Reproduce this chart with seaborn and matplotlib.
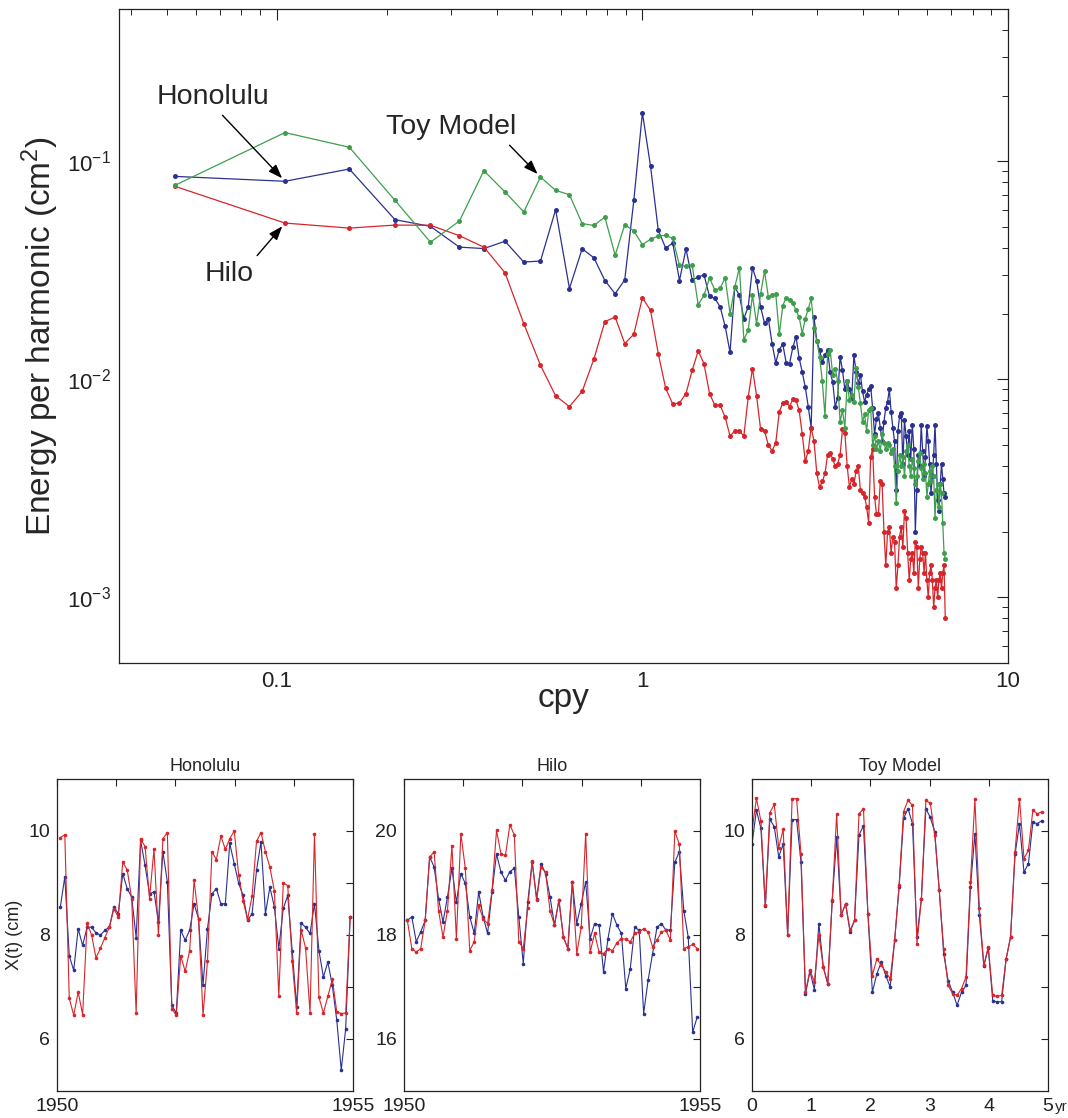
import numpy as np
import pandas as pd
import matplotlib
matplotlib.use("Agg")
import matplotlib.pyplot as plt
from matplotlib.ticker import FixedLocator, FixedFormatter, LogLocator, NullFormatter
import matplotlib.transforms as mtransforms
import seaborn as sns

# ---------------- data: spectra (energy per harmonic, cm^2) ----------------
record_years = 19.0
harmonic = np.arange(1, 129)          # harmonic number k, frequency = k / record length

honolulu_E = [
    0.0853, 0.0810, 0.0922, 0.0540, 0.0503, 0.0404, 0.0398, 0.0430, 0.0345, 0.0349,
    0.0600, 0.0261, 0.0397, 0.0361, 0.0284, 0.0247, 0.0286, 0.0662, 0.1670, 0.0948,
    0.0482, 0.0400, 0.0422, 0.0284, 0.0397, 0.0286, 0.0294, 0.0302, 0.0240, 0.0235,
    0.0215, 0.0175, 0.0133, 0.0265, 0.0243, 0.0190, 0.0215, 0.0325, 0.0284, 0.0215,
    0.0181, 0.0190, 0.0146, 0.0119, 0.0137, 0.0145, 0.0119, 0.0118, 0.0140, 0.0157,
    0.0125, 0.0108, 0.0092, 0.0075, 0.0060, 0.0193, 0.0150, 0.0136, 0.0120, 0.0129,
    0.0136, 0.0108, 0.0097, 0.0075, 0.0082, 0.0127, 0.0110, 0.0090, 0.0098, 0.0090,
    0.0082, 0.0129, 0.0108, 0.0096, 0.0105, 0.0088, 0.0079, 0.0085, 0.0090, 0.0093,
    0.0074, 0.0056, 0.0066, 0.0070, 0.0060, 0.0052, 0.0064, 0.0074, 0.0079, 0.0090,
    0.0071, 0.0060, 0.0052, 0.0031, 0.0058, 0.0068, 0.0070, 0.0041, 0.0065, 0.0055,
    0.0045, 0.0058, 0.0043, 0.0062, 0.0048, 0.0020, 0.0031, 0.0045, 0.0040, 0.0062,
    0.0047, 0.0036, 0.0044, 0.0061, 0.0052, 0.0041, 0.0030, 0.0036, 0.0045, 0.0062,
    0.0041, 0.0028, 0.0025, 0.0033, 0.0041, 0.0035, 0.0030, 0.0029,
]
hilo_E = [
    0.0768, 0.0521, 0.0494, 0.0510, 0.0509, 0.0456, 0.0404, 0.0308, 0.0180, 0.0116,
    0.0084, 0.0075, 0.0088, 0.0124, 0.0184, 0.0193, 0.0146, 0.0161, 0.0237, 0.0207,
    0.0131, 0.0091, 0.0077, 0.0078, 0.0086, 0.0110, 0.0135, 0.0118, 0.0086, 0.0076,
    0.0076, 0.0067, 0.0055, 0.0058, 0.0058, 0.0055, 0.0083, 0.0112, 0.0084, 0.0059,
    0.0058, 0.0050, 0.0047, 0.0051, 0.0071, 0.0078, 0.0079, 0.0075, 0.0081, 0.0080,
    0.0072, 0.0056, 0.0042, 0.0047, 0.0060, 0.0052, 0.0037, 0.0032, 0.0034, 0.0037,
    0.0045, 0.0046, 0.0043, 0.0040, 0.0041, 0.0045, 0.0059, 0.0057, 0.0040, 0.0032,
    0.0035, 0.0033, 0.0038, 0.0040, 0.0031, 0.0030, 0.0029, 0.0026, 0.0022, 0.0044,
    0.0048, 0.0029, 0.0024, 0.0024, 0.0034, 0.0033, 0.0020, 0.0014, 0.0020, 0.0021,
    0.0016, 0.0019, 0.0018, 0.0011, 0.0014, 0.0019, 0.0021, 0.0017, 0.0025, 0.0023,
    0.0016, 0.0012, 0.0015, 0.0016, 0.0013, 0.0018, 0.0017, 0.0011, 0.0015, 0.0017,
    0.0016, 0.0013, 0.0016, 0.0012, 0.0010, 0.0013, 0.0014, 0.0012, 0.0009, 0.0011,
    0.0012, 0.0010, 0.0012, 0.0013, 0.0011, 0.0013, 0.0014, 0.0008,
]
toy_E = [
    0.0776, 0.1355, 0.1160, 0.0662, 0.0426, 0.0532, 0.0906, 0.0723, 0.0586, 0.0847,
    0.0736, 0.0703, 0.0518, 0.0508, 0.0555, 0.0371, 0.0512, 0.0479, 0.0415, 0.0439,
    0.0454, 0.0458, 0.0443, 0.0333, 0.0330, 0.0333, 0.0220, 0.0243, 0.0292, 0.0256,
    0.0262, 0.0292, 0.0200, 0.0265, 0.0325, 0.0152, 0.0168, 0.0243, 0.0180, 0.0247,
    0.0314, 0.0239, 0.0243, 0.0247, 0.0161, 0.0218, 0.0237, 0.0231, 0.0225, 0.0207,
    0.0193, 0.0162, 0.0190, 0.0210, 0.0235, 0.0172, 0.0150, 0.0127, 0.0098, 0.0068,
    0.0130, 0.0136, 0.0105, 0.0112, 0.0098, 0.0064, 0.0072, 0.0060, 0.0098, 0.0080,
    0.0085, 0.0079, 0.0113, 0.0092, 0.0078, 0.0064, 0.0069, 0.0058, 0.0072, 0.0074,
    0.0050, 0.0055, 0.0048, 0.0052, 0.0047, 0.0056, 0.0051, 0.0048, 0.0051, 0.0050,
    0.0046, 0.0048, 0.0040, 0.0027, 0.0038, 0.0045, 0.0040, 0.0044, 0.0036, 0.0047,
    0.0050, 0.0040, 0.0036, 0.0043, 0.0039, 0.0033, 0.0036, 0.0042, 0.0046, 0.0039,
    0.0035, 0.0041, 0.0037, 0.0029, 0.0033, 0.0038, 0.0034, 0.0040, 0.0036, 0.0023,
    0.0031, 0.0033, 0.0026, 0.0033, 0.0030, 0.0022, 0.0016, 0.0015,
]

# ---------------- data: time series X(t) in cm (observed = blue, model = red) -------------
sample_step = 0.0753          # years between samples
hon_start, hilo_start, toy_start = 1950.056, 1950.056, 0.0

hon_obs = [
    8.54, 9.12, 7.60, 7.32, 8.12, 7.80, 8.15, 8.15, 8.04, 8.00,
    8.09, 8.15, 8.54, 8.41, 9.18, 8.89, 8.73, 7.95, 9.82, 9.34,
    8.79, 8.83, 8.25, 9.60, 9.02, 6.65, 6.50, 8.09, 7.90, 8.09,
    8.60, 8.31, 7.03, 8.12, 8.79, 8.89, 8.60, 8.60, 9.76, 9.37,
    8.99, 8.76, 8.28, 8.41, 9.24, 9.79, 8.41, 8.92, 8.54, 7.74,
    8.51, 8.76, 7.70, 6.62, 8.23, 8.15, 8.03, 8.60, 7.70, 7.19,
    7.48, 7.03, 6.36, 5.40, 6.20, 8.35,
]
hon_fit = [
    9.87, 9.93, 6.78, 6.46, 6.90, 6.47, 8.23, 8.00, 7.56, 7.75,
    7.95, 8.15, 8.50, 8.35, 9.40, 9.25, 8.70, 6.50, 9.85, 9.70,
    8.70, 9.65, 8.00, 9.85, 9.97, 6.58, 6.46, 7.60, 7.30, 7.70,
    9.05, 8.30, 6.46, 7.50, 9.60, 9.45, 9.90, 9.65, 9.85, 10.00,
    9.15, 8.65, 8.30, 8.75, 9.80, 9.97, 9.60, 9.30, 8.85, 6.82,
    9.00, 8.95, 7.50, 6.50, 8.10, 7.75, 6.50, 9.95, 6.80, 6.50,
    6.82, 7.15, 6.52, 6.49, 6.50, 8.35,
]
hilo_obs = [
    18.28, 18.35, 17.87, 18.06, 18.28, 19.50, 19.31, 18.70, 18.25, 18.73,
    19.28, 18.63, 19.18, 18.99, 18.35, 18.03, 18.83, 18.35, 18.03, 18.83,
    19.56, 19.21, 19.05, 19.22, 19.28, 18.35, 17.45, 18.63, 19.40, 18.70,
    19.37, 19.18, 18.73, 18.19, 18.67, 17.96, 17.74, 19.02, 18.22, 18.60,
    19.02, 17.93, 18.22, 18.19, 17.29, 17.93, 18.41, 18.19, 18.03, 16.97,
    17.35, 18.15, 18.09, 16.49, 17.13, 17.64, 18.15, 18.22, 18.09, 18.10,
    19.40, 19.60, 18.47, 17.96, 16.13, 16.42,
]
hilo_fit = [
    18.28, 17.74, 17.67, 17.74, 18.28, 19.50, 19.60, 18.47, 17.96, 18.47,
    19.72, 17.93, 19.95, 19.28, 17.70, 17.87, 18.57, 18.31, 18.22, 18.86,
    20.01, 19.56, 19.53, 20.12, 19.92, 17.87, 17.74, 18.51, 19.42, 18.67,
    19.30, 19.21, 18.47, 18.19, 18.67, 17.96, 17.74, 19.02, 17.64, 18.15,
    19.95, 17.67, 18.03, 17.67, 17.64, 17.74, 17.70, 17.85, 17.93, 17.92,
    17.87, 18.03, 18.06, 18.12, 18.06, 17.77, 17.90, 18.06, 18.09, 17.90,
    20.00, 19.74, 17.74, 17.77, 17.82, 17.74,
]
toy_obs = [
    9.75, 10.40, 10.05, 8.55, 10.23, 10.08, 9.50, 9.75, 8.00, 10.22,
    10.22, 9.40, 6.87, 7.30, 6.95, 8.22, 7.38, 7.06, 8.66, 9.88,
    8.38, 8.60, 8.06, 8.28, 9.92, 10.10, 8.41, 6.90, 7.25, 7.48,
    7.22, 7.00, 7.90, 8.92, 10.24, 10.43, 10.14, 7.96, 8.70, 10.43,
    10.26, 9.98, 8.86, 7.64, 7.12, 6.90, 6.65, 6.90, 7.03, 8.92,
    9.95, 8.38, 7.40, 7.75, 6.74, 6.71, 6.72, 7.54, 7.96, 9.55,
    10.14, 9.21, 9.37, 10.17, 10.14, 10.20,
]
toy_fit = [
    10.00, 10.63, 10.19, 8.57, 10.35, 10.51, 9.68, 10.03, 8.00, 10.62,
    10.62, 9.56, 6.90, 7.32, 7.10, 8.00, 7.38, 7.06, 8.68, 10.33,
    8.38, 8.60, 8.09, 8.28, 10.33, 10.43, 8.41, 7.22, 7.54, 7.42,
    7.29, 7.16, 7.90, 8.96, 10.37, 10.59, 10.49, 7.83, 8.70, 10.59,
    10.53, 9.92, 8.86, 7.74, 7.03, 6.87, 6.84, 6.97, 7.19, 9.02,
    10.62, 8.51, 7.42, 7.77, 6.84, 6.82, 6.84, 7.54, 7.96, 9.60,
    10.62, 9.47, 9.63, 10.40, 10.33, 10.37,
]

# ---------------- style ----------------
sns.set_style("white")
plt.rcParams["font.family"] = ["Liberation Sans", "DejaVu Sans"]
plt.rcParams["mathtext.fontset"] = "custom"
plt.rcParams["mathtext.rm"] = "Liberation Sans"
plt.rcParams["mathtext.it"] = "Liberation Sans:italic"
plt.rcParams["mathtext.bf"] = "Liberation Sans:bold"
plt.rcParams["mathtext.default"] = "rm"

BLUE = "#2a3190"
RED = "#d7262b"
GREEN = "#3f9e4d"
AX_COLOR = "#222222"

fig = plt.figure(figsize=(10.68, 11.18), dpi=100)

# ---------------- top: spectra ----------------
ax = fig.add_axes([0.1114, 0.4070, 0.8324, 0.5850])
freq = harmonic / record_years
spec = pd.DataFrame({"cpy": freq, "Honolulu": honolulu_E, "Hilo": hilo_E, "Toy Model": toy_E})

for name, col in [("Honolulu", BLUE), ("Hilo", RED), ("Toy Model", GREEN)]:
    sns.lineplot(data=spec, x="cpy", y=name, ax=ax, color=col, linewidth=0.9,
                 marker="o", markersize=3.6, markeredgewidth=0, markeredgecolor=col,
                 sort=False, estimator=None)

ax.set_xscale("log")
ax.set_yscale("log")
ax.set_xlim(0.037, 10)
ax.set_ylim(5e-4, 0.5)
ax.xaxis.set_major_locator(FixedLocator([0.1, 1, 10]))
ax.xaxis.set_major_formatter(FixedFormatter(["0.1", "1", "10"]))
ax.xaxis.set_minor_locator(LogLocator(base=10, subs=np.arange(2, 10), numticks=20))
ax.xaxis.set_minor_formatter(NullFormatter())
ax.yaxis.set_major_locator(FixedLocator([1e-3, 1e-2, 1e-1]))
ax.yaxis.set_major_formatter(FixedFormatter([r"$10^{-3}$", r"$10^{-2}$", r"$10^{-1}$"]))
ax.yaxis.set_minor_locator(LogLocator(base=10, subs=np.arange(2, 10), numticks=20))
ax.yaxis.set_minor_formatter(NullFormatter())
ax.tick_params(which="major", direction="in", length=8, width=0.8, top=True, right=True,
               labelsize=16, pad=6, colors=AX_COLOR)
ax.tick_params(which="minor", direction="in", length=4, width=0.7, top=True, right=True,
               colors=AX_COLOR)
for s in ax.spines.values():
    s.set_color(AX_COLOR)
    s.set_linewidth(0.9)
ax.set_xlabel("cpy", fontsize=24, labelpad=-7)
ax.set_ylabel("Energy per harmonic (cm$^2$)", fontsize=24, labelpad=4)

def arrow(rel):
    return dict(arrowstyle="-|>,head_length=0.6,head_width=0.22", color="black", lw=1.0,
                mutation_scale=14, shrinkA=2, shrinkB=3, relpos=rel)

ax.annotate("Honolulu", xy=(freq[1], honolulu_E[1]), xytext=(0.1057, 0.8654),
            textcoords="axes fraction", ha="center", va="center", fontsize=20.5,
            arrowprops=arrow((0.54, 0.0)))
ax.annotate("Toy Model", xy=(freq[9], toy_E[9]), xytext=(0.3735, 0.8196),
            textcoords="axes fraction", ha="center", va="center", fontsize=20.5,
            arrowprops=arrow((0.91, 0.0)))
ax.annotate("Hilo", xy=(freq[1], hilo_E[1]), xytext=(0.1237, 0.5948),
            textcoords="axes fraction", ha="center", va="center", fontsize=20.5,
            arrowprops=arrow((0.98, 1.0)))

# ---------------- bottom: time series ----------------
panels = [
    ("Honolulu", hon_start, hon_obs, hon_fit, (5, 11), [6, 7, 8, 9, 10], ["6", "", "8", "", "10"],
     (1950, 1955), [1950, 1951, 1952, 1953, 1954, 1955], ["1950", "", "", "", "", "1955"], 0.0534),
    ("Hilo", hilo_start, hilo_obs, hilo_fit, (15, 21), [16, 17, 18, 19, 20], ["16", "", "18", "", "20"],
     (1950, 1955), [1950, 1951, 1952, 1953, 1954, 1955], ["1950", "", "", "", "", "1955"], 0.3783),
    ("Toy Model", toy_start, toy_obs, toy_fit, (5, 11), [6, 7, 8, 9, 10], ["6", "", "8", "", "10"],
     (0, 5), [0, 1, 2, 3, 4, 5], ["0", "1", "2", "3", "4", "5"], 0.7041),
]

for (title, t0, obs, fit, ylim, yt, ytl, xlim, xt, xtl, left) in panels:
    bx = fig.add_axes([left, 0.02415, 0.2772, 0.2791])
    t = t0 + sample_step * np.arange(len(obs))
    df = pd.DataFrame({"t": t, "obs": obs, "fit": fit})
    sns.lineplot(data=df, x="t", y="obs", ax=bx, color=BLUE, linewidth=0.8, marker="o",
                 markersize=2.6, markeredgewidth=0, sort=False, estimator=None)
    sns.lineplot(data=df, x="t", y="fit", ax=bx, color=RED, linewidth=0.8, marker="o",
                 markersize=2.6, markeredgewidth=0, sort=False, estimator=None)
    bx.set_xlim(*xlim)
    bx.set_ylim(*ylim)
    bx.xaxis.set_major_locator(FixedLocator(xt))
    bx.xaxis.set_major_formatter(FixedFormatter(xtl))
    bx.yaxis.set_major_locator(FixedLocator(yt))
    bx.yaxis.set_major_formatter(FixedFormatter(ytl))
    bx.tick_params(which="major", direction="in", length=5, width=0.8, top=True, right=True,
                   labelsize=14, pad=5, colors=AX_COLOR)
    for s in bx.spines.values():
        s.set_color(AX_COLOR)
        s.set_linewidth(0.9)
    bx.set_title(title, fontsize=13, pad=6)
    bx.set_xlabel("")
    if title == "Honolulu":
        bx.set_ylabel("X(t) (cm)", fontsize=13, labelpad=4)
    else:
        bx.set_ylabel("")
    if title == "Toy Model":
        trans = mtransforms.blended_transform_factory(bx.transData, bx.transAxes)
        bx.annotate("yr", xy=(5, 0), xycoords=trans, xytext=(5.2, -6.5),
                    textcoords="offset points", ha="left", va="top", fontsize=11,
                    annotation_clip=False)

fig.savefig("out.png", dpi=100)
